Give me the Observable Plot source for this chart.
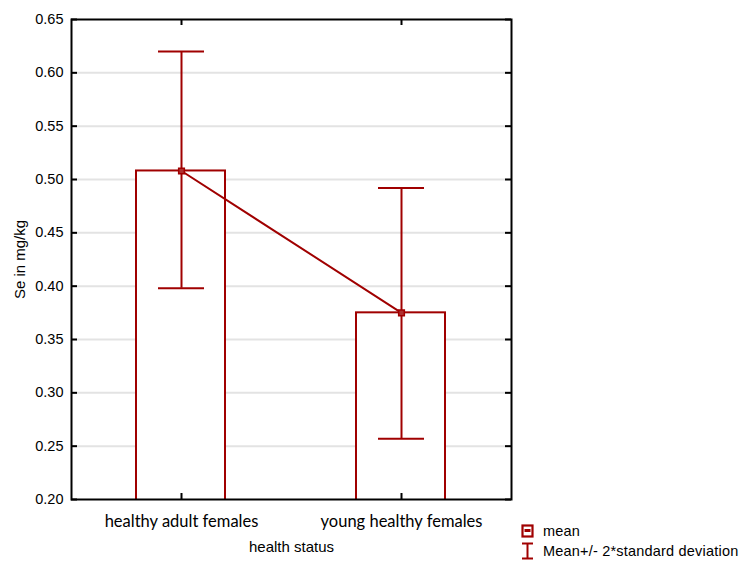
<!DOCTYPE html>
<html>
<head>
<meta charset="utf-8">
<script src="https://cdn.jsdelivr.net/npm/d3@7"></script>
<script src="https://cdn.jsdelivr.net/npm/@observablehq/plot@0.6"></script>
<style>
  html, body { margin: 0; padding: 0; background: #fff; }
  #chart { position: relative; width: 748px; height: 572px; font-family: "Liberation Sans", Arial, sans-serif; }
  #legend { position: absolute; left: 521px; top: 521px; font-size: 14.5px; color: #000; letter-spacing: 0.2px; }
  #legend .row { display: flex; align-items: center; height: 20px; }
  #legend svg { margin-right: 9px; }
</style>
</head>
<body>
<div id="chart"></div>
<script>
// Selenium concentration by health status
const groups = ["healthy adult females", "young healthy females"];
const means  = [0.508, 0.375];
const lows   = [0.398, 0.257];   // mean - 2*SD
const highs  = [0.620, 0.492];   // mean + 2*SD
const yTicks = [0.20, 0.25, 0.30, 0.35, 0.40, 0.45, 0.50, 0.55, 0.60, 0.65];
const yLabel = "Se in mg/kg";
const xLabel = "health status";
const legendLabels = ["mean", "Mean+/- 2*standard deviation"];

const red = "#a00000";
const rows = groups.map((g, i) => ({group: g, mean: means[i], low: lows[i], high: highs[i]}));

const chart = Plot.plot({
  width: 748,
  height: 572,
  marginLeft: 71,
  marginRight: 237,
  marginTop: 19,
  marginBottom: 73,
  style: {fontFamily: "'Liberation Sans', Arial, sans-serif", fontSize: "14px", background: "white"},
  x: {type: "band", domain: groups, padding: 0},
  y: {domain: [0.20, 0.65]},
  marks: [
    Plot.ruleY(yTicks.slice(1, -1), {stroke: "#e3e3e3", strokeWidth: 2}),
    Plot.barY(rows, {x: "group", y1: 0, y2: "mean", fill: "white", stroke: red, strokeWidth: 2, insetLeft: 65, insetRight: 66, clip: true}),
    Plot.ruleX(rows, {x: "group", y1: "low", y2: "high", stroke: red, strokeWidth: 2}),
    Plot.tickY(rows, {x: "group", y: "low", stroke: red, strokeWidth: 2, insetLeft: 87, insetRight: 87}),
    Plot.tickY(rows, {x: "group", y: "high", stroke: red, strokeWidth: 2, insetLeft: 87, insetRight: 87}),
    Plot.line(rows, {x: "group", y: "mean", stroke: red, strokeWidth: 2}),
    Plot.dot(rows, {x: "group", y: "mean", symbol: "square", r: 3.2, fill: "#b03030", stroke: red, strokeWidth: 1.5}),
    // inward ticks on all four sides
    Plot.tickY(yTicks, {y: d => d, stroke: "black", strokeWidth: 2, insetRight: 434}),
    Plot.tickY(yTicks, {y: d => d, stroke: "black", strokeWidth: 2, insetLeft: 434}),
    Plot.tickX(groups, {x: d => d, stroke: "black", strokeWidth: 2, insetBottom: 474}),
    Plot.tickX(groups, {x: d => d, stroke: "black", strokeWidth: 2, insetTop: 474}),
    Plot.frame({stroke: "black", strokeWidth: 2}),
    Plot.axisY(yTicks, {tickSize: 0, tickPadding: 8, tickFormat: d3.format(".2f"), fontSize: 14.5, label: null}),
    Plot.axisX({tickSize: 0, tickPadding: 16, fontSize: 16.5, fontFamily: "Lato, 'Open Sans', sans-serif", label: null}),
    Plot.text([yLabel], {frameAnchor: "left", textAnchor: "middle", rotate: -90, dx: -51, fontSize: 15}),
    Plot.text([xLabel], {frameAnchor: "bottom", textAnchor: "middle", dy: 52, fontSize: 15})
  ]
});

const root = document.getElementById("chart");
root.appendChild(chart);

// legend: mean marker and error bar symbols
const legend = document.createElement("div");
legend.id = "legend";
legend.innerHTML = `
  <div class="row">
    <svg width="13" height="14" viewBox="0 0 13 14">
      <rect x="1.5" y="1.5" width="10" height="11" fill="none" stroke="${red}" stroke-width="2.2"/>
      <rect x="3.5" y="5" width="6" height="3" fill="${red}"/>
    </svg><span>${legendLabels[0]}</span>
  </div>
  <div class="row">
    <svg width="13" height="18" viewBox="0 0 13 18">
      <line x1="1" y1="1.5" x2="12" y2="1.5" stroke="${red}" stroke-width="2"/>
      <line x1="6.5" y1="1.5" x2="6.5" y2="16.5" stroke="${red}" stroke-width="2"/>
      <line x1="1" y1="16.5" x2="12" y2="16.5" stroke="${red}" stroke-width="2"/>
    </svg><span>${legendLabels[1]}</span>
  </div>`;
root.appendChild(legend);
</script>
</body>
</html>
